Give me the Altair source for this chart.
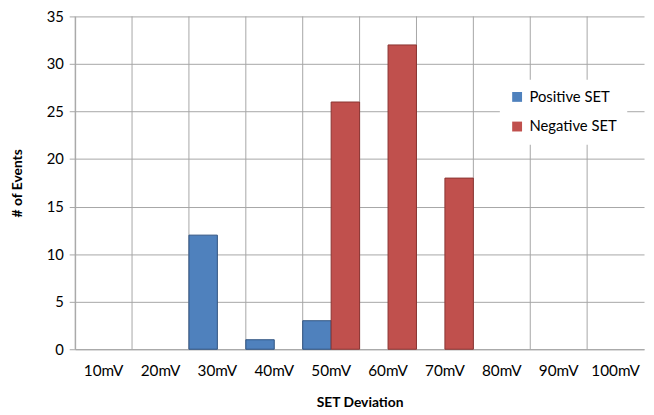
import altair as alt
import pandas as pd

categories = ["10mV", "20mV", "30mV", "40mV", "50mV", "60mV", "70mV", "80mV", "90mV", "100mV"]
positive_set = [0, 0, 12, 1, 3, 0, 0, 0, 0, 0]
negative_set = [0, 0, 0, 0, 26, 32, 18, 0, 0, 0]
series_names = ["Positive SET", "Negative SET"]
fill_colors = ["#4F81BD", "#C0504D"]
edge_colors = ["#2F5280", "#8A3532"]
y_ticks = [0, 5, 10, 15, 20, 25, 30, 35]

rows = []
for c, p, n in zip(categories, positive_set, negative_set):
    rows.append({"cat": c, "series": series_names[0], "value": p})
    rows.append({"cat": c, "series": series_names[1], "value": n})
df = pd.DataFrame(rows)
cat_df = pd.DataFrame({"cat": categories})

FONT = "Lato"
GRID = "#A6A6A6"

x_scale = alt.Scale(domain=categories, paddingInner=0, paddingOuter=0)

grid_rules = alt.Chart(cat_df).mark_rule(color=GRID, strokeWidth=1).encode(
    x=alt.X("cat:N", scale=x_scale, bandPosition=0, sort=categories,
            axis=alt.Axis(title="SET Deviation", labelAngle=0, ticks=False,
                          labelFontSize=15.5, labelPadding=15, titlePadding=16,
                          domainColor=GRID, grid=False)),
)

bars = alt.Chart(df).transform_filter("datum.value > 0").mark_bar(strokeWidth=1).encode(
    x=alt.X("cat:N", scale=x_scale, sort=categories),
    xOffset=alt.XOffset("series:N", sort=series_names,
                        scale=alt.Scale(domain=series_names, paddingInner=0, paddingOuter=0)),
    y=alt.Y("value:Q", scale=alt.Scale(domain=[0, 35], nice=False),
            axis=alt.Axis(values=y_ticks, title="# of Events", tickSize=6,
                          tickColor=GRID, domainColor=GRID, gridColor=GRID,
                          labelFontSize=15, labelPadding=6, titlePadding=22)),
    color=alt.Color("series:N", sort=series_names,
                    scale=alt.Scale(domain=series_names, range=fill_colors),
                    legend=alt.Legend(title=None, orient="none", legendX=430, legendY=64,
                                      fillColor="white", padding=10, symbolType="square",
                                      symbolSize=100, labelFontSize=15, labelFont=FONT,
                                      labelColor="black", rowPadding=14, labelOffset=5,
                                      symbolStrokeWidth=0)),
    stroke=alt.Stroke("series:N", sort=series_names,
                      scale=alt.Scale(domain=series_names, range=edge_colors), legend=None),
)

chart = alt.layer(grid_rules, bars).properties(
    width=576, height=337,
    autosize=alt.AutoSizeParams(type="none"),
    padding={"left": 68, "top": 6, "right": 2, "bottom": 60},
).configure_axis(
    labelFont=FONT, labelColor="black",
    titleFont=FONT, titleFontSize=14, titleFontWeight="bold", titleColor="black",
).configure_view(stroke=None)

chart.save("out.html", embed_options={"renderer": "svg", "actions": False})
